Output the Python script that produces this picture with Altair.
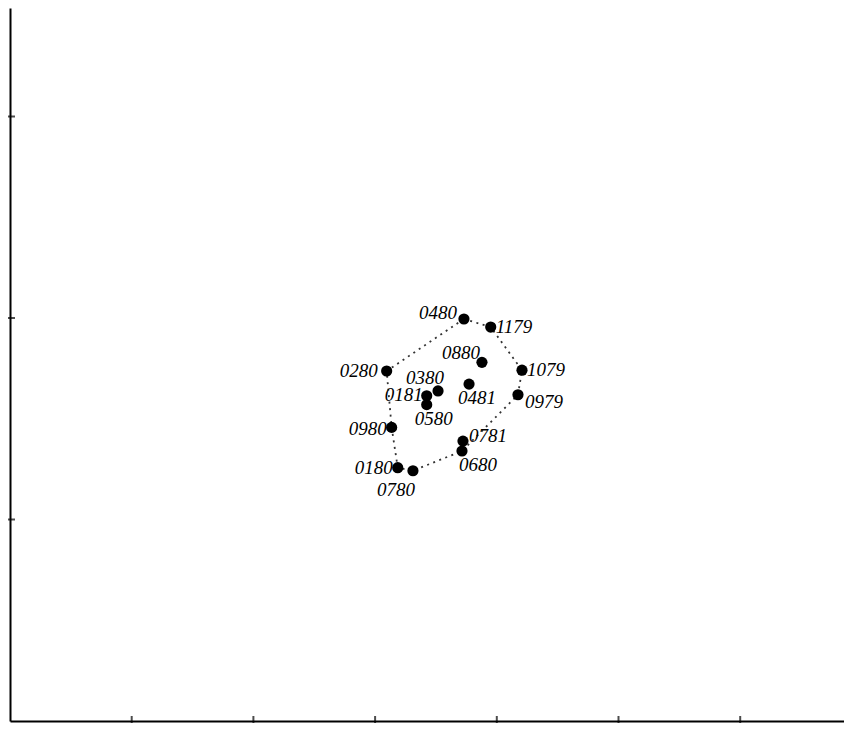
import altair as alt
import pandas as pd

labels = ["0480", "1179", "0880", "0280", "1079", "0380", "0481", "0181",
          "0580", "0979", "0980", "0781", "0680", "0180", "0780"]
xs = [3.730, 3.950, 3.878, 3.095, 4.207, 3.517, 3.772, 3.424,
      3.424, 4.174, 3.136, 3.722, 3.714, 3.186, 3.311]
ys = [1.995, 1.955, 1.780, 1.737, 1.741, 1.638, 1.672, 1.614,
      1.570, 1.619, 1.457, 1.389, 1.340, 1.257, 1.242]

hull_order = ["0480", "1179", "1079", "0979", "0680", "0780", "0180", "0980", "0280", "0480"]

x_ticks = [1, 2, 3, 4, 5, 6]
y_ticks = [1, 2, 3]

# label placement: (align, dx, dy)
placement = {
    "0480": ("right", -7, -6),
    "1179": ("left", 5, 0),
    "0880": ("right", -2, -9),
    "0280": ("right", -9, 0),
    "1079": ("left", 5, 0),
    "0380": ("center", -13, -13),
    "0481": ("center", 8, 14),
    "0181": ("right", -4, -1),
    "0580": ("center", 7, 14),
    "0979": ("left", 7, 7),
    "0980": ("right", -5, 2),
    "0781": ("left", 6, -5),
    "0680": ("left", -3, 14),
    "0180": ("right", -5, 0),
    "0780": ("center", -17, 19),
}

df = pd.DataFrame({"label": labels, "x": xs, "y": ys})
lookup = {l: (x, y) for l, x, y in zip(labels, xs, ys)}
hull = pd.DataFrame({
    "order": list(range(len(hull_order))),
    "x": [lookup[l][0] for l in hull_order],
    "y": [lookup[l][1] for l in hull_order],
})
xt = pd.DataFrame({"x": x_ticks, "y": [0] * len(x_ticks)})
yt = pd.DataFrame({"x": [0] * len(y_ticks), "y": y_ticks})

W, H = 834, 713
axis = alt.Axis(ticks=False, labels=False, grid=False, title=None,
                domainColor="black", domainWidth=2)
xs_scale = alt.Scale(domain=[0, W / 121.7], nice=False, zero=False)
ys_scale = alt.Scale(domain=[0, H / 201.5], nice=False, zero=False)

X = alt.X("x:Q", scale=xs_scale, axis=axis)
Y = alt.Y("y:Q", scale=ys_scale, axis=axis)

line = alt.Chart(hull).mark_line(color="#333333", strokeDash=[2, 4.5],
                                 strokeWidth=1.8).encode(x=X, y=Y, order="order:Q")
pts = alt.Chart(df).mark_point(filled=True, color="black", opacity=1,
                               size=125).encode(x=X, y=Y)
xtick = alt.Chart(xt).mark_tick(orient="vertical", color="black", size=10,
                                thickness=2).encode(x=X, y=Y)
ytick = alt.Chart(yt).mark_tick(orient="horizontal", color="black", size=10,
                                thickness=2).encode(x=X, y=Y)

texts = []
for lab in labels:
    al, dx, dy = placement[lab]
    texts.append(
        alt.Chart(df).transform_filter(alt.datum.label == lab).mark_text(
            align=al, baseline="middle", dx=dx, dy=dy, font="Liberation Serif",
            fontStyle="italic", fontSize=19, color="black"
        ).encode(x=X, y=Y, text="label:N")
    )

chart = alt.layer(line, pts, xtick, ytick, *texts).properties(
    width=W, height=H,
    padding={"left": 2, "top": 0, "right": 0, "bottom": 2},
    autosize=alt.AutoSizeParams(type="none"),
).configure_view(stroke=None)

chart.save("out.html", embed_options={"renderer": "svg", "actions": False})
